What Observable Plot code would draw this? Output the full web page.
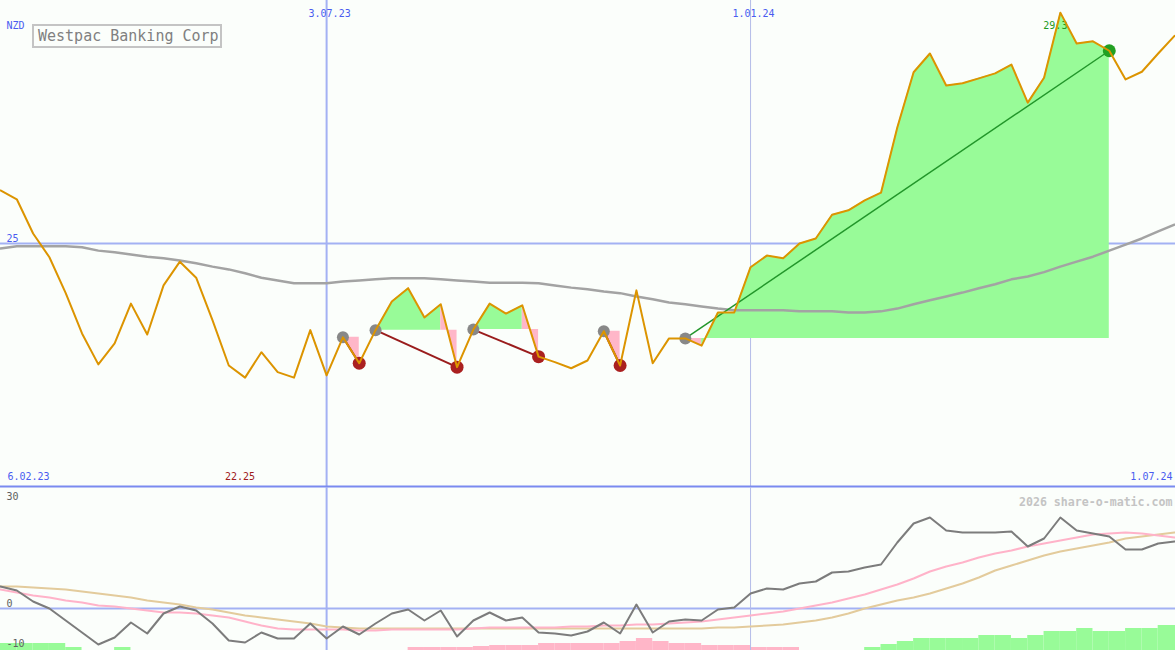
<!DOCTYPE html>
<html><head><meta charset="utf-8">
<script src="https://cdn.jsdelivr.net/npm/d3@7"></script>
<script src="https://cdn.jsdelivr.net/npm/@observablehq/plot@0.6"></script>
<style>
html,body{margin:0;padding:0;background:#fbfefb;}
#chart{position:relative;width:1175px;height:650px;overflow:hidden;background:#fbfefb;}
#upper{position:absolute;left:0;top:0;}
#lower{position:absolute;left:0;top:487px;}
#title{position:absolute;left:32px;top:24px;width:182px;height:20px;border:2px solid #c4c4c4;color:#808080;font:15px "DejaVu Sans Mono",monospace;line-height:20px;padding-left:4px;white-space:nowrap;z-index:2;}
</style></head><body>
<div id="chart"><div id="upper"></div><div id="lower"></div><div id="title">Westpac Banking Corp</div></div>
<script>
// ---- data ----
const weeks = ["2023-02-13","2023-02-20","2023-02-27","2023-03-06","2023-03-13","2023-03-20","2023-03-27","2023-04-03","2023-04-10","2023-04-17",
"2023-04-24","2023-05-01","2023-05-08","2023-05-15","2023-05-22","2023-05-29","2023-06-05","2023-06-12","2023-06-19","2023-06-26",
"2023-07-03","2023-07-10","2023-07-17","2023-07-24","2023-07-31","2023-08-07","2023-08-14","2023-08-21","2023-08-28","2023-09-04",
"2023-09-11","2023-09-18","2023-09-25","2023-10-02","2023-10-09","2023-10-16","2023-10-23","2023-10-30","2023-11-06","2023-11-13",
"2023-11-20","2023-11-27","2023-12-04","2023-12-11","2023-12-18","2023-12-25","2024-01-01","2024-01-08","2024-01-15","2024-01-22",
"2024-01-29","2024-02-05","2024-02-12","2024-02-19","2024-02-26","2024-03-04","2024-03-11","2024-03-18","2024-03-25","2024-04-01",
"2024-04-08","2024-04-15","2024-04-22","2024-04-29","2024-05-06","2024-05-13","2024-05-20","2024-05-27","2024-06-03","2024-06-10",
"2024-06-17","2024-06-24","2024-07-01"];
const price = [25.96,25.80,25.18,24.75,24.10,23.37,22.81,23.19,23.91,23.35,
24.24,24.67,24.38,23.61,22.79,22.57,23.03,22.67,22.57,23.43,
22.61,23.30,22.83,23.43,23.95,24.19,23.66,23.90,22.76,23.44,
23.91,23.73,23.88,22.95,22.85,22.74,22.88,23.41,22.79,24.15,
22.83,23.28,23.28,23.15,23.75,23.75,24.57,24.78,24.73,25.00,
25.09,25.52,25.60,25.78,25.92,27.10,28.10,28.44,27.86,27.90,
27.99,28.08,28.24,27.55,28.00,29.18,28.62,28.66,28.49,27.97,
28.11,28.44,28.76];
const movingAvg = [24.91,24.95,24.95,24.95,24.95,24.93,24.87,24.84,24.80,24.76,
24.73,24.69,24.64,24.58,24.53,24.46,24.38,24.33,24.28,24.28,
24.28,24.31,24.33,24.35,24.37,24.37,24.37,24.35,24.33,24.31,
24.29,24.29,24.29,24.28,24.24,24.20,24.17,24.13,24.10,24.04,
23.99,23.93,23.90,23.86,23.82,23.79,23.79,23.79,23.79,23.77,
23.77,23.77,23.75,23.75,23.77,23.82,23.90,23.97,24.04,24.11,
24.19,24.26,24.35,24.40,24.48,24.58,24.67,24.76,24.87,24.98,
25.09,25.22,25.34];
const oscillator = [5.5,4.5,1.75,0,-3,-6,-9,-7.25,-3.5,-6.25,
-1.25,0.5,-0.5,-3.75,-8,-8.5,-6,-7.5,-7.5,-3.75,
-7.5,-4.5,-6.5,-3.75,-1.25,-0.25,-3,-0.5,-7,-3,
-1,-3,-2.25,-6,-6.25,-6.75,-5.75,-3.5,-6.25,1,
-6,-3.25,-2.75,-3,-0.25,0.25,3.75,5,4.75,6.25,
6.75,9,9.25,10.25,11,16.5,21.25,22.75,19.5,19,
19,19,19.25,15.5,17.5,22.75,19.5,18.75,18,14.75,
14.75,16.25,16.75];
const signalFast = [4.75,4,3.25,2.75,2,1.5,0.75,0.5,0,-0.5,
-1,-1,-1.25,-1.75,-2.25,-3.25,-4.25,-5,-5.25,-5.25,
-5.25,-5.25,-5.5,-5.5,-5.25,-5.25,-5.25,-5.25,-5.25,-5,
-4.75,-4.75,-4.75,-4.75,-4.75,-4.5,-4.5,-4.25,-4.25,-4,
-4,-3.75,-3.5,-3.25,-2.75,-2.25,-1.75,-1.25,-0.75,0,
0.75,1.5,2.5,3.5,4.75,6,7.5,9.25,10.5,11.5,
12.75,13.75,14.5,15.5,16.25,17,17.75,18.5,18.75,19,
18.75,18.25,17.75];
const signalSlow = [5.5,5.5,5.25,5,4.75,4.25,3.75,3.25,2.75,2,
1.5,1,0.25,-0.25,-1,-1.75,-2.25,-2.75,-3.25,-3.75,
-4.5,-4.75,-5,-5,-5,-5,-5,-5,-5,-5,
-5,-5,-5,-5,-5,-5,-5,-5,-5,-5,
-5,-5,-5,-5,-4.75,-4.75,-4.5,-4.25,-4,-3.5,
-3,-2.25,-1.25,0,1,2,2.75,3.75,5,6.25,
7.75,9.5,10.75,12,13.25,14.25,15,15.75,16.5,17.5,
18,18.5,19];
const histogram = [1.75,1.75,1.75,1.75,0.75,0,0,0.75,0,0,
0,0,0,0,0,0,0,0,0,0,
0,0,0,0,0,-0.75,-0.75,-0.75,-0.75,-1,
-1.25,-1.25,-1.25,-1.75,-1.75,-1.75,-1.75,-1.75,-2.25,-3,
-2.25,-1.75,-1.75,-1.25,-1.25,-1.25,-0.75,-0.75,-0.75,0,
0,0,0,0.75,1.5,2.25,3,3,3,3,
3.75,3.75,3,3.75,4.75,4.75,5.5,4.75,4.75,5.5,
5.5,6.25,6.25];
const tradeEntries = ["2023-07-10","2023-07-24","2023-09-04","2023-10-30","2023-12-04"];
const tradeExits   = ["2023-07-17","2023-08-28","2023-10-02","2023-11-06","2024-06-03"];
const gridDatesMajor = ["2023-07-03"];
const gridDatesMinor = ["2024-01-01"];
const topTickDates  = ["2023-07-03","2024-01-01"];
const topTickLabels = ["3.07.23","1.01.24"];
const edgeLabels = ["6.02.23","1.07.24"];
const priceTicks = [25];
const currency = ["NZD"];
const extremeLabels = [{date:"2023-05-29", text:"22.25", kind:"low"}, {date:"2024-05-13", text:"29.3", kind:"high"}];
const oscTicks = [30, 0, -10];
const oscZero = [0];
const credit = ["2026 share-o-matic.com"];

// ---- scales config ----
const priceDomain = [20.58, 29.40];
const oscDomain = [-10.5, 30.25];
const FONT = '"DejaVu Sans Mono", monospace';
const BLUE_TXT = "#4a5cf0";
const GRID = "#a3b1f3";

const parse = d3.utcParse("%Y-%m-%d");
const dates = weeks.map(parse);
const xOpt = {type:"utc", domain:[dates[0], dates[dates.length-1]], range:[0,1174], axis:null};

const rows = price.map((v,i)=>({date:dates[i], price:v, ma:movingAvg[i], osc:oscillator[i], fast:signalFast[i], slow:signalSlow[i]}));

const trades = tradeEntries.map((e,t)=>{
  const a = weeks.indexOf(e), b = weeks.indexOf(tradeExits[t]);
  return {a, b, d1:dates[a], d2:dates[b], p1:price[a], p2:price[b], gain: price[b] > price[a]};
});
const fillRows = []; let run = 0;
trades.forEach(tr=>{
  let prev = null;
  for (let k=tr.a; k<tr.b; k++){
    const up = price[k+1] >= tr.p1;
    if (up !== prev){ run++; fillRows.push({run, date:dates[k], lo:tr.p1, hi:price[k], up}); }
    fillRows.push({run, date:dates[k+1], lo:tr.p1, hi:price[k+1], up});
    prev = up;
  }
});

const upper = Plot.plot({
  width:1175, height:488, marginTop:0, marginBottom:1, marginLeft:0, marginRight:0,
  x: xOpt,
  y: {domain: priceDomain, axis:null},
  style: {background:"transparent", fontFamily: FONT, fontSize:"10px", overflow:"visible"},
  marks: [
    Plot.ruleY(priceTicks, {y:d=>d, stroke:GRID, strokeWidth:2}),
    Plot.ruleX(gridDatesMajor, {x:d=>parse(d), stroke:GRID, strokeWidth:2}),
    Plot.ruleX(gridDatesMinor, {x:d=>parse(d), stroke:"#b4bce8", strokeWidth:1}),
    Plot.ruleY([priceDomain[0]], {y:d=>d, dy:-1, stroke:"#7a8af0", strokeWidth:2}),
    Plot.text(topTickDates, {x:d=>parse(d), text:(d,i)=>topTickLabels[i], frameAnchor:"top", dy:9, dx:3, fill:BLUE_TXT}),
    Plot.text(currency, {frameAnchor:"top-left", text:d=>d, dx:6, dy:21, textAnchor:"start", fill:BLUE_TXT}),
    Plot.text(priceTicks, {y:d=>d, text:d=>String(d), frameAnchor:"left", dx:6, dy:-5, textAnchor:"start", fill:BLUE_TXT}),
    Plot.text(edgeLabels.slice(0,1), {frameAnchor:"bottom-left", text:d=>d, dx:7, dy:-8, textAnchor:"start", fill:BLUE_TXT}),
    Plot.text(edgeLabels.slice(1), {frameAnchor:"bottom-right", text:d=>d, dx:-3, dy:-8, textAnchor:"end", fill:BLUE_TXT}),
    Plot.text(extremeLabels.filter(d=>d.kind==="low"), {x:d=>parse(d.date), text:d=>d.text, frameAnchor:"bottom", dx:-5, dy:-8, fill:"#a01c1c"}),
    Plot.area(fillRows, {x1:"date", y1:"lo", y2:"hi", z:"run", fill:d=>d.up ? "#98fb98" : "#ffb6c8"}),
    Plot.text(extremeLabels.filter(d=>d.kind==="high"), {x:d=>parse(d.date), text:d=>d.text, frameAnchor:"top", dx:-5, dy:21, fill:"#1f9a1f"}),
    Plot.line(rows, {x:"date", y:"ma", stroke:"#a3a3a3", strokeWidth:2.5}),
    Plot.link(trades.filter(d=>!d.gain), {x1:"d1", y1:"p1", x2:"d2", y2:"p2", stroke:"#9a1c1c", strokeWidth:2}),
    Plot.link(trades.filter(d=>d.gain), {x1:"d1", y1:"p1", x2:"d2", y2:"p2", stroke:"#22962a", strokeWidth:1.5}),
    Plot.dot(trades, {x:"d1", y:"p1", r:6, fill:"#888888"}),
    Plot.dot(trades, {x:"d2", y:"p2", r:6.5, fill:d=>d.gain ? "#22a022" : "#aa2020"}),
    Plot.line(rows, {x:"date", y:"price", stroke:"#dc9400", strokeWidth:2})
  ]
});
document.getElementById("upper").appendChild(upper);

const barRows = histogram.map((v,i)=>({d1:dates[i], d2: i+1<dates.length ? dates[i+1] : d3.utcWeek.offset(dates[i],1), lo:oscDomain[0], hi:oscDomain[0]+Math.abs(v), v})).filter(d=>d.v!==0);

const lower = Plot.plot({
  width:1175, height:163, marginTop:0, marginBottom:0, marginLeft:0, marginRight:0,
  x: xOpt,
  y: {domain: oscDomain, axis:null},
  style: {background:"transparent", fontFamily: FONT, fontSize:"10px", overflow:"visible"},
  marks: [
    Plot.rect(barRows, {x1:"d1", x2:"d2", y1:"lo", y2:"hi", fill:d=>d.v>0 ? "#98fb98" : "#ffb6c8"}),
    Plot.ruleY(oscZero, {y:d=>d, stroke:GRID, strokeWidth:2}),
    Plot.ruleX(gridDatesMajor, {x:d=>parse(d), stroke:GRID, strokeWidth:2}),
    Plot.ruleX(gridDatesMinor, {x:d=>parse(d), stroke:"#b4bce8", strokeWidth:1}),
    Plot.text(oscTicks, {y:d=>Math.min(d, 26.6), text:d=>String(d), frameAnchor:"left", dx:6, dy:-5, textAnchor:"start", fill:"#606060"}),
    Plot.text(credit, {frameAnchor:"top-right", text:d=>d, dx:-3, dy:10, textAnchor:"end", fill:"#c4c4c4", fontWeight:"bold", fontSize:11.6}),
    Plot.line(rows, {x:"date", y:"slow", stroke:"#e3cb9c", strokeWidth:2}),
    Plot.line(rows, {x:"date", y:"fast", stroke:"#ffb3c9", strokeWidth:2}),
    Plot.line(rows, {x:"date", y:"osc", stroke:"#7c7c7c", strokeWidth:2})
  ]
});
document.getElementById("lower").appendChild(lower);
</script>
</body></html>
